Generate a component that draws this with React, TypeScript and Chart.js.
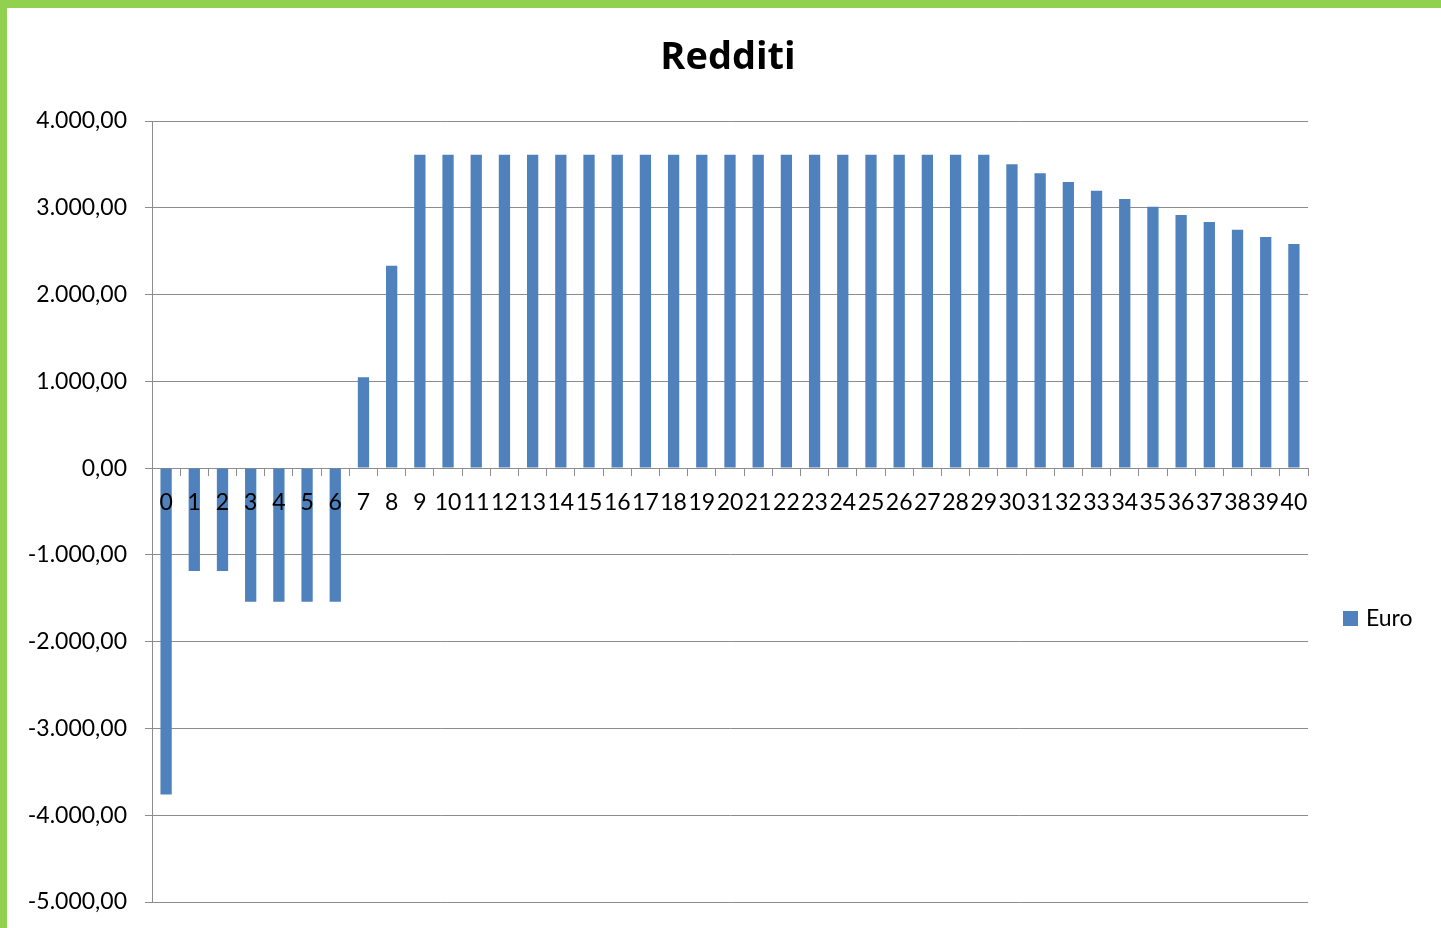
import React, { useEffect, useRef } from "react";
import { Chart, registerables } from "chart.js";

Chart.register(...registerables);

const categories: string[] = Array.from({ length: 41 }, (_, i) => String(i));
const euroValues: number[] = [
  -3760, -1185, -1185, -1540, -1540, -1540, -1540, 1047, 2333,
  3610, 3610, 3610, 3610, 3610, 3610, 3610, 3610, 3610, 3610,
  3610, 3610, 3610, 3610, 3610, 3610, 3610, 3610, 3610, 3610, 3610,
  3503, 3399, 3296, 3196, 3100, 3012, 2916, 2835, 2747, 2663, 2582,
];
const seriesLabel = "Euro";
const chartTitle = "Redditi";
const yMin = -5000;
const yMax = 4000;
const yStep = 1000;

const BAR_COLOR = "#4F81BD";
const GRID_COLOR = "#8C8C8C";
const FONT = "Lato";

function formatIt(v: number): string {
  const neg = v < 0;
  const abs = Math.abs(v);
  const intPart = Math.floor(abs).toString().replace(/\B(?=(\d{3})+(?!\d))/g, ".");
  return (neg ? "-" : "") + intPart + ",00";
}

const decorPlugin = {
  id: "decor",
  afterDraw(chart: any) {
    const ctx = chart.ctx;
    ctx.save();
    // title
    ctx.fillStyle = "#000";
    ctx.font = `bold 38px "Open Sans"`;
    ctx.textAlign = "center";
    ctx.textBaseline = "alphabetic";
    ctx.fillText(chartTitle, 721, 61);
    // legend
    ctx.fillStyle = BAR_COLOR;
    ctx.fillRect(1336, 603, 15, 15);
    ctx.fillStyle = "#000";
    ctx.font = `23px ${FONT}`;
    ctx.textAlign = "left";
    ctx.fillText(seriesLabel, 1359, 618);
    ctx.restore();
  },
};

export default function App() {
  const ref = useRef<HTMLCanvasElement | null>(null);
  useEffect(() => {
    document.body.style.margin = "0";
    if (!ref.current) return;
    const chart = new Chart(ref.current, {
      type: "bar",
      data: {
        labels: categories,
        datasets: [
          {
            label: seriesLabel,
            data: euroValues,
            backgroundColor: BAR_COLOR,
            borderWidth: 0,
            barPercentage: 0.4,
            categoryPercentage: 1,
          },
        ],
      },
      options: {
        responsive: false,
        animation: false,
        layout: { padding: { left: 0, right: 133, top: 113, bottom: 26 } },
        plugins: {
          legend: { display: false },
          tooltip: { enabled: false },
          title: { display: false },
        },
        scales: {
          x: {
            position: { y: 0 } as any,
            grid: {
              display: true,
              drawOnChartArea: false,
              drawTicks: true,
              tickLength: 7,
              color: GRID_COLOR,
              offset: true,
            },
            border: { display: true, color: GRID_COLOR },
            ticks: {
              z: 1,
              autoSkip: false,
              maxRotation: 0,
              minRotation: 0,
              padding: 14,
              color: "#000",
              font: { family: FONT, size: 23 },
            },
            afterFit: (scale: any) => {
              scale.paddingLeft = 0;
              scale.paddingRight = 0;
            },
          },
          y: {
            min: yMin,
            max: yMax,
            afterFit: (scale: any) => {
              scale.width = 145;
              scale.paddingTop = 0;
              scale.paddingBottom = 0;
            },
            grid: {
              color: GRID_COLOR,
              tickLength: 7,
              drawTicks: true,
            },
            border: { display: true, color: GRID_COLOR },
            ticks: {
              stepSize: yStep,
              padding: 18,
              color: "#000",
              font: { family: FONT, size: 23 },
              callback: (v: any) => formatIt(Number(v)),
            },
          },
        },
      },
      plugins: [decorPlugin],
    });
    return () => chart.destroy();
  }, []);

  return (
    <div
      style={{
        position: "fixed",
        left: 0,
        top: 0,
        width: 1441,
        height: 928,
        boxSizing: "border-box",
        borderTop: "8px solid #92D050",
        borderLeft: "7px solid #92D050",
        background: "#fff",
        overflow: "hidden",
      }}
    >
      <canvas ref={ref} width={1434} height={920} style={{ display: "block" }} />
    </div>
  );
}
